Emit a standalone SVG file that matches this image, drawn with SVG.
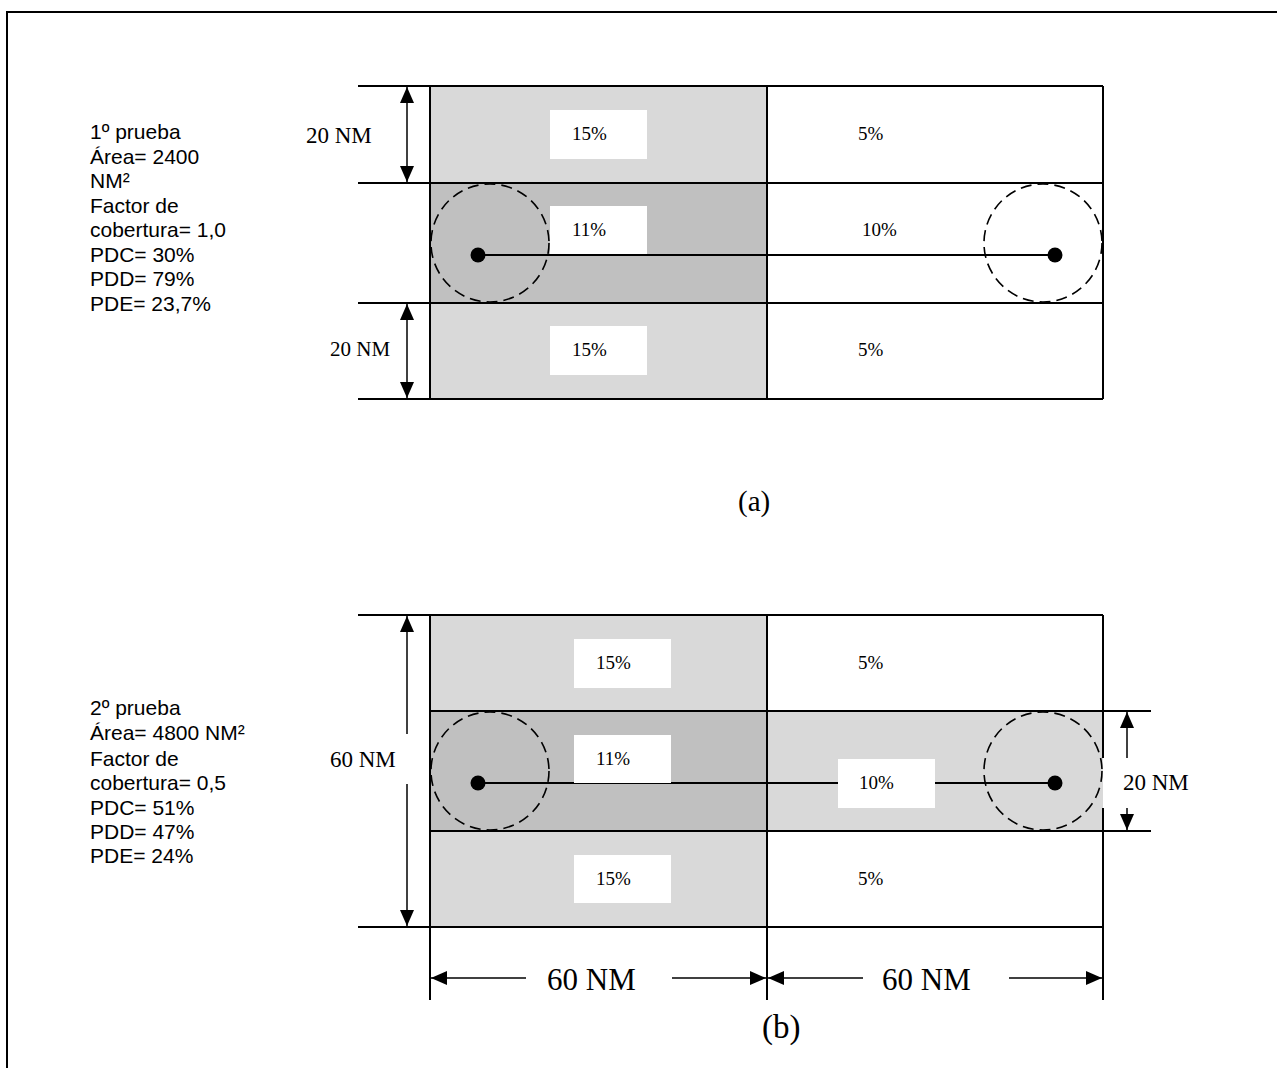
<svg xmlns="http://www.w3.org/2000/svg" width="1277" height="1068" viewBox="0 0 1277 1068">
<style>
.ln{stroke:#000;stroke-width:2;fill:none}
.dim{stroke:#000;stroke-width:1.5;fill:none}
.dc{stroke:#000;stroke-width:1.6;fill:none;stroke-dasharray:11 6}
.lt{fill:#d9d9d9}
.dk{fill:#c0c0c0}
.wb{fill:#fff}
.tm{font-family:"Liberation Serif","Times New Roman",serif;fill:#000}
.ar{font-family:"Liberation Sans",Arial,sans-serif;font-size:21px;fill:#000}
.pc{font-size:19px}
.nm{font-size:23px}
</style>
<defs>
<marker id="ah" viewBox="0 0 16 14" refX="16" refY="7" markerUnits="userSpaceOnUse" markerWidth="16" markerHeight="14" orient="auto-start-reverse">
<path d="M0,0 L16,7 L0,14 z" fill="#000"/>
</marker>
</defs>

<g id="frame">
<line class="ln" x1="7" y1="12" x2="1277" y2="12"/>
<line class="ln" x1="7" y1="11" x2="7" y2="1068"/>
</g>

<!-- Diagram (a) -->
<g id="grid-a">
<rect class="lt" x="430" y="86" width="337" height="97"/>
<rect class="dk" x="430" y="183" width="337" height="120"/>
<rect class="lt" x="430" y="303" width="337" height="96"/>
<line class="ln" x1="358" y1="86" x2="1103" y2="86"/>
<line class="ln" x1="358" y1="183" x2="1103" y2="183"/>
<line class="ln" x1="358" y1="303" x2="1103" y2="303"/>
<line class="ln" x1="358" y1="399" x2="1103" y2="399"/>
<line class="ln" x1="430" y1="86" x2="430" y2="399"/>
<line class="ln" x1="767" y1="86" x2="767" y2="399"/>
<line class="ln" x1="1103" y1="86" x2="1103" y2="399"/>
</g>
<g id="cells-a">
<rect class="wb" x="550" y="110" width="97" height="49"/>
<text class="tm pc" x="572" y="140">15%</text>
<text class="tm pc" x="858" y="140">5%</text>
<rect class="wb" x="550" y="206" width="97" height="49"/>
<text class="tm pc" x="572" y="236">11%</text>
<text class="tm pc" x="862" y="236">10%</text>
<rect class="wb" x="550" y="326" width="97" height="49"/>
<text class="tm pc" x="572" y="356">15%</text>
<text class="tm pc" x="858" y="356">5%</text>
</g>
<g id="track-a">
<line class="ln" x1="478" y1="255" x2="1055" y2="255"/>
<circle class="dc" cx="490" cy="243" r="59"/>
<circle class="dc" cx="1043" cy="243" r="59"/>
<circle cx="478" cy="255" r="7.5" fill="#000"/>
<circle cx="1055" cy="255" r="7.5" fill="#000"/>
</g>
<g id="dims-a">
<line class="dim" x1="407" y1="87" x2="407" y2="182" marker-start="url(#ah)" marker-end="url(#ah)"/>
<line class="dim" x1="407" y1="304" x2="407" y2="398" marker-start="url(#ah)" marker-end="url(#ah)"/>
<text class="tm nm" x="306" y="143">20 NM</text>
<text class="tm" font-size="21" x="330" y="356">20 NM</text>
</g>
<g id="info-a">
<text class="ar" x="90" y="139">1º prueba</text>
<text class="ar" x="90" y="163.5">Área= 2400</text>
<text class="ar" x="90" y="188">NM²</text>
<text class="ar" x="90" y="212.5">Factor de</text>
<text class="ar" x="90" y="237">cobertura= 1,0</text>
<text class="ar" x="90" y="261.5">PDC= 30%</text>
<text class="ar" x="90" y="286">PDD= 79%</text>
<text class="ar" x="90" y="310.5">PDE= 23,7%</text>
</g>
<g id="label-a">
<text class="tm" font-size="29" x="738" y="511">(a)</text>
</g>

<!-- Diagram (b) -->
<g id="grid-b">
<rect class="lt" x="430" y="615" width="337" height="96"/>
<rect class="dk" x="430" y="711" width="337" height="120"/>
<rect class="lt" x="767" y="711" width="336" height="120"/>
<rect class="lt" x="430" y="831" width="337" height="96"/>
<line class="ln" x1="358" y1="615" x2="1103" y2="615"/>
<line class="ln" x1="430" y1="711" x2="1151" y2="711"/>
<line class="ln" x1="430" y1="831" x2="1151" y2="831"/>
<line class="ln" x1="358" y1="927" x2="1103" y2="927"/>
<line class="ln" x1="430" y1="615" x2="430" y2="1000"/>
<line class="ln" x1="767" y1="615" x2="767" y2="1000"/>
<line class="ln" x1="1103" y1="615" x2="1103" y2="758"/>
<line class="ln" x1="1103" y1="808" x2="1103" y2="1000"/>
</g>
<g id="track-b">
<line class="ln" x1="478" y1="783" x2="1055" y2="783"/>
<circle class="dc" cx="490" cy="771" r="59"/>
<circle class="dc" cx="1043" cy="771" r="59"/>
<circle cx="478" cy="783" r="7.5" fill="#000"/>
<circle cx="1055" cy="783" r="7.5" fill="#000"/>
</g>
<g id="cells-b">
<rect class="wb" x="574" y="639" width="97" height="49"/>
<text class="tm pc" x="596" y="669">15%</text>
<text class="tm pc" x="858" y="669">5%</text>
<rect class="wb" x="574" y="735" width="97" height="48"/>
<text class="tm pc" x="596" y="765">11%</text>
<rect class="wb" x="838" y="759" width="97" height="49"/>
<text class="tm pc" x="859" y="789">10%</text>
<rect class="wb" x="574" y="855" width="97" height="48"/>
<text class="tm pc" x="596" y="885">15%</text>
<text class="tm pc" x="858" y="885">5%</text>
</g>
<g id="dims-b">
<line class="dim" x1="407" y1="616" x2="407" y2="734" marker-start="url(#ah)"/>
<line class="dim" x1="407" y1="784" x2="407" y2="926" marker-end="url(#ah)"/>
<text class="tm nm" x="330" y="767">60 NM</text>
<line class="dim" x1="1127" y1="712" x2="1127" y2="758" marker-start="url(#ah)"/>
<line class="dim" x1="1127" y1="808" x2="1127" y2="830" marker-end="url(#ah)"/>
<text class="tm nm" x="1123" y="790">20 NM</text>
<line class="dim" x1="431" y1="978" x2="526" y2="978" marker-start="url(#ah)"/>
<line class="dim" x1="672" y1="978" x2="766" y2="978" marker-end="url(#ah)"/>
<text class="tm" font-size="31" x="547" y="990">60 NM</text>
<line class="dim" x1="768" y1="978" x2="863" y2="978" marker-start="url(#ah)"/>
<line class="dim" x1="1009" y1="978" x2="1102" y2="978" marker-end="url(#ah)"/>
<text class="tm" font-size="31" x="882" y="990">60 NM</text>
</g>
<g id="info-b">
<text class="ar" x="90" y="715">2º prueba</text>
<text class="ar" x="90" y="740">Área= 4800 NM²</text>
<text class="ar" x="90" y="765.5">Factor de</text>
<text class="ar" x="90" y="790">cobertura= 0,5</text>
<text class="ar" x="90" y="815">PDC= 51%</text>
<text class="ar" x="90" y="838.5">PDD= 47%</text>
<text class="ar" x="90" y="863">PDE= 24%</text>
</g>
<g id="label-b">
<text class="tm" font-size="33" x="762" y="1038">(b)</text>
</g>
</svg>
